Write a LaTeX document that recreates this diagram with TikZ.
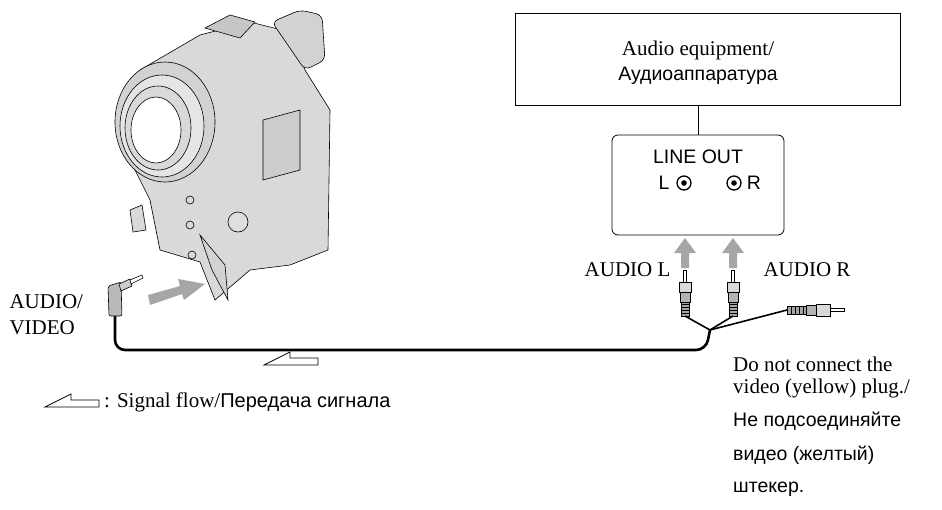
\documentclass[tikz,border=0pt]{standalone}
\usepackage{fontspec}
\setmainfont{Liberation Serif}
\setsansfont{Liberation Sans}
\begin{document}
\begin{tikzpicture}[x=1pt,y=-1pt,
  serif/.style={font=\fontsize{21}{24}\selectfont},
  sans/.style={font=\sffamily\fontsize{19.5}{24}\selectfont},
  cable/.style={line width=2.6pt,line cap=round},
  wire/.style={line width=1.6pt},
  body/.style={fill=gray!35,draw=black,line width=0.6pt},
  grayarrow/.style={fill=gray!70,draw=none},
  flow/.style={draw=black,line width=0.8pt,fill=white}]
\useasboundingbox (0,0) rectangle (942,509);
% ---- audio equipment
\node[draw,line width=0.8pt,minimum width=385pt,minimum height=92pt,inner sep=0] (eq) at (708,59) {};
\node[serif] (eq1) at (698,50) {Audio equipment/};
\node[sans] (eq2) at (698,76) {Аудиоаппаратура};
\node[draw,rounded corners=6pt,line width=0.8pt,minimum width=172pt,minimum height=100pt] (lo) at (698,185) {};
\draw[line width=0.8pt] (eq.south -| lo.north) -- (lo.north);
\node[sans] (lot) at (698,157) {LINE OUT};
\node[sans] (ll) at (664,183) {L};
\node[sans] (rr) at (754,183) {R};
\node[draw,circle,line width=1.3pt,minimum size=14pt,inner sep=0] (jl) at (684,183) {};
\node[draw,circle,line width=1.3pt,minimum size=14pt,inner sep=0] (jr) at (734,183) {};
\fill (jl) circle (2.8pt); \fill (jr) circle (2.8pt);
% gray arrows
\foreach \x in {685,733}{
 \fill[grayarrow] (\x-4,268) -- (\x-4,253) -- (\x-11,253) -- (\x,238) -- (\x+11,253) -- (\x+4,253) -- (\x+4,268) -- cycle;}
% RCA plugs
\coordinate (jn) at (710,330);
\foreach \x in {685,733}{
 \draw[line width=0.6pt,fill=white] (\x-1.5,270) rectangle (\x+1.5,282);
 \draw[body,fill=gray!30] (\x-6,282) rectangle (\x+6,292);
 \draw[body,fill=gray!60] (\x-5,292) rectangle (\x+5,302);
 \draw[body,fill=gray!70] (\x-4,302) rectangle (\x+4,316);
 \foreach \y in {304,307,...,314} \draw[line width=0.5pt] (\x-4,\y) -- (\x+4,\y);
 \draw[wire] (\x,316) -- (jn);}
\coordinate (vp) at (787,310);
\draw[wire] (jn) -- (vp);
\draw[body,fill=gray!70] (787,306) rectangle (806,314);
\foreach \x in {791,795,...,803} \draw[line width=0.5pt] (\x,306) -- (\x,314);
\draw[body,fill=gray!60] (806,305) rectangle (816,315);
\draw[body,fill=gray!30] (816,304) rectangle (830,316);
\draw[line width=0.6pt,fill=white] (830,308.5) rectangle (844,311.5);
\node[serif,anchor=east] (al) at (674,270) {AUDIO L};
\node[serif,anchor=west] (ar) at (760,270) {AUDIO R};
% ---- main cable
\coordinate (mp) at (115,316);
\draw[cable,rounded corners=10pt] (mp) -- (115,350) -- (706,350) -- (jn);
% mini plug
\draw[body,fill=gray!55,rounded corners=2pt] (108,286) -- (121,282) -- (122,316) -- (109,316) -- cycle;
\draw[body,fill=gray!40] (119,284) -- (130,279) -- (132,286) -- (121,291) -- cycle;
\draw[line width=0.6pt,fill=white] (130,280) -- (142,275) -- (143,278) -- (131,284) -- cycle;
\node[serif,anchor=west] (av1) at (6,302) {AUDIO/};
\node[serif,anchor=west] (av2) at (6,328) {VIDEO};
% ---- camcorder (simplified)
\draw[body,fill=gray!30] (140,70) -- (200,35) -- (250,22) -- (290,32) -- (305,70) -- (330,110) -- (328,250) -- (290,265) -- (250,270) -- (215,300) -- (200,262) -- (160,250) -- (150,200) -- (125,150) -- cycle;
\draw[body,fill=gray!45] (205,28) -- (230,15) -- (255,22) -- (240,38) -- cycle;
\draw[body,fill=gray!35,rounded corners=6pt] (272,22) -- (300,10) -- (322,15) -- (325,60) -- (305,70) -- cycle;
\draw[body,fill=gray!40] (263,120) -- (300,110) -- (300,170) -- (263,180) -- cycle;
\draw[body,fill=gray!35] (165,122) ellipse (50pt and 60pt);
\draw[body,fill=gray!20] (162,126) ellipse (42pt and 51pt);
\draw[body,fill=gray!30] (158,128) ellipse (33pt and 42pt);
\draw[body,fill=white] (156,130) ellipse (25pt and 33pt);
\draw[body,fill=gray!35] (200,235) -- (225,265) -- (228,300) -- (212,270) -- cycle;
\draw[body,fill=gray!25] (238,222) circle (10pt);
\draw[line width=0.6pt] (190,200) circle (4pt) (190,225) circle (4pt) (192,255) circle (4pt);
\draw[body,fill=gray!30] (130,210) -- (142,205) -- (146,230) -- (133,232) -- cycle;
\fill[grayarrow] (150,305) -- (148,295) -- (180,286) -- (178,279) -- (205,284) -- (184,300) -- (182,294) -- cycle;
% ---- signal flow
\draw[flow] (318,365) -- (264,365) -- (290,352) -- (290,358) -- (318,358) -- cycle;
\draw[flow] (99,407) -- (45,407) -- (71,394) -- (71,400) -- (99,400) -- cycle;
\node[anchor=west,inner sep=0] (sf) at (104,402) {\fontsize{21}{24}\selectfont : Signal flow/\sffamily\fontsize{20}{24}\selectfont Передача сигнала};
\node[serif,anchor=west,inner sep=0] (n1) at (733,364) {Do not connect the};
\node[serif,anchor=west,inner sep=0] (n2) at (733,388) {video (yellow) plug./};
\node[sans,anchor=west,inner sep=0] (n3) at (733,421) {Не подсоединяйте};
\node[sans,anchor=west,inner sep=0] (n4) at (733,455) {видео (желтый)};
\node[sans,anchor=west,inner sep=0] (n5) at (733,489) {штекер.};
\end{tikzpicture}
\end{document}
